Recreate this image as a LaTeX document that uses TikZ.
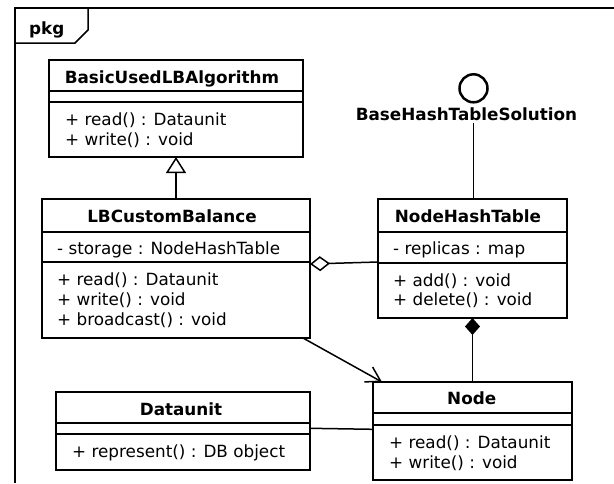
\documentclass[tikz,border=0pt]{standalone}
\usepackage{fontspec}
\setmainfont{DejaVu Sans}
\usetikzlibrary{arrows.meta}
\tikzset{
  every node/.style={font=\fontsize{16.8}{20}\selectfont},
  cls/.style={draw, rectangle, line width=2.8pt, inner sep=0pt, outer sep=0pt, anchor=north west},
  sepline/.style={line width=1.6pt},
  frame/.style={line width=1.5pt},
  conn/.style={line width=1.5pt},
  txt/.style={inner sep=0pt, anchor=base west},
  ttl/.style={inner sep=0pt, anchor=base, font=\fontsize{16.8}{20}\selectfont\bfseries},
}
\begin{document}
\begin{tikzpicture}[x=1pt,y=-1pt]
\useasboundingbox (0,0) rectangle (614,483);
% package frame
\draw[frame] (614,8) -- (15,8) -- (15,483);
\draw[frame] (15,43) -- (75,43) -- (88,30) -- (88,8);
\node[ttl, anchor=base west] (pkg) at (29,34.5) {pkg};

% BasicUsedLBAlgorithm
\node[cls, minimum width=254pt, minimum height=97pt] (B) at (49,60) {};
\draw[sepline] (B.west |- 0,91) -- (B.east |- 0,91);
\draw[sepline] (B.west |- 0,102) -- (B.east |- 0,102);
\node[ttl] (Bt) at (172,83.3) {BasicUsedLBAlgorithm};
\node[txt] (B1) at (65,125.5) {+ read() : Dataunit};
\node[txt] (B2) at (65,145.5) {+ write() : void};

% LBCustomBalance
\node[cls, minimum width=268pt, minimum height=139pt] (L) at (42,199) {};
\draw[sepline] (L.west |- 0,232) -- (L.east |- 0,232);
\draw[sepline] (L.west |- 0,262) -- (L.east |- 0,262);
\node[ttl] (Lt) at (172,222) {LBCustomBalance};
\node[txt] (La) at (57,254) {- storage : NodeHashTable};
\node[txt] (L1) at (57,285.5) {+ read() : Dataunit};
\node[txt] (L2) at (57,305.5) {+ write() : void};
\node[txt] (L3) at (57,325.5) {+ broadcast() : void};

% NodeHashTable
\node[cls, minimum width=189pt, minimum height=119pt] (N) at (378,199) {};
\draw[sepline] (N.west |- 0,232) -- (N.east |- 0,232);
\draw[sepline] (N.west |- 0,263) -- (N.east |- 0,263);
\node[ttl] (Nt) at (468,222) {NodeHashTable};
\node[txt] (Na) at (393,254) {- replicas : map};
\node[txt] (N1) at (393,286) {+ add() : void};
\node[txt] (N2) at (393,305.7) {+ delete() : void};

% Node
\node[cls, minimum width=199pt, minimum height=98pt] (Nd) at (373,382) {};
\draw[sepline] (Nd.west |- 0,413) -- (Nd.east |- 0,413);
\draw[sepline] (Nd.west |- 0,425) -- (Nd.east |- 0,425);
\node[ttl] (Ndt) at (471.7,404) {Node};
\node[txt] (Nd1) at (389,448.3) {+ read() : Dataunit};
\node[txt] (Nd2) at (389,468) {+ write() : void};

% Dataunit
\node[cls, minimum width=254pt, minimum height=78pt] (D) at (56,392) {};
\draw[sepline] (D.west |- 0,423) -- (D.east |- 0,423);
\draw[sepline] (D.west |- 0,434) -- (D.east |- 0,434);
\node[ttl] (Dt) at (181,415) {Dataunit};
\node[txt] (D1) at (72,457) {+ represent() : DB object};

% interface lollipop
\node[draw, circle, line width=2.5pt, minimum size=28pt, inner sep=0pt] (I) at (473.5,88.3) {};
\node[ttl] (Il) at (466.5,120.7) {BaseHashTableSolution};
\draw[conn] ([yshift=-2pt]Il.south -| I.center) -- (N.north -| I.center);

% relations
\draw[conn, -{Triangle[open, length=16pt, width=20pt]}] (L.north) -- (B.south);
\draw[conn, -{Diamond[open, length=20pt, width=15pt]}] (N.west |- 0,262) -- (L.east |- 0,264);
\draw[conn, -{Diamond[length=17pt, width=15pt]}] (Nd.north) -- (N.south);
\draw[conn, -{Straight Barb[length=14pt, width=17pt]}] ([xshift=-7pt]L.south east) -- ([xshift=9pt]Nd.north west);
\draw[conn] (D.east |- 0,428.3) -- (Nd.west |- 0,429.3);
\end{tikzpicture}
\end{document}
